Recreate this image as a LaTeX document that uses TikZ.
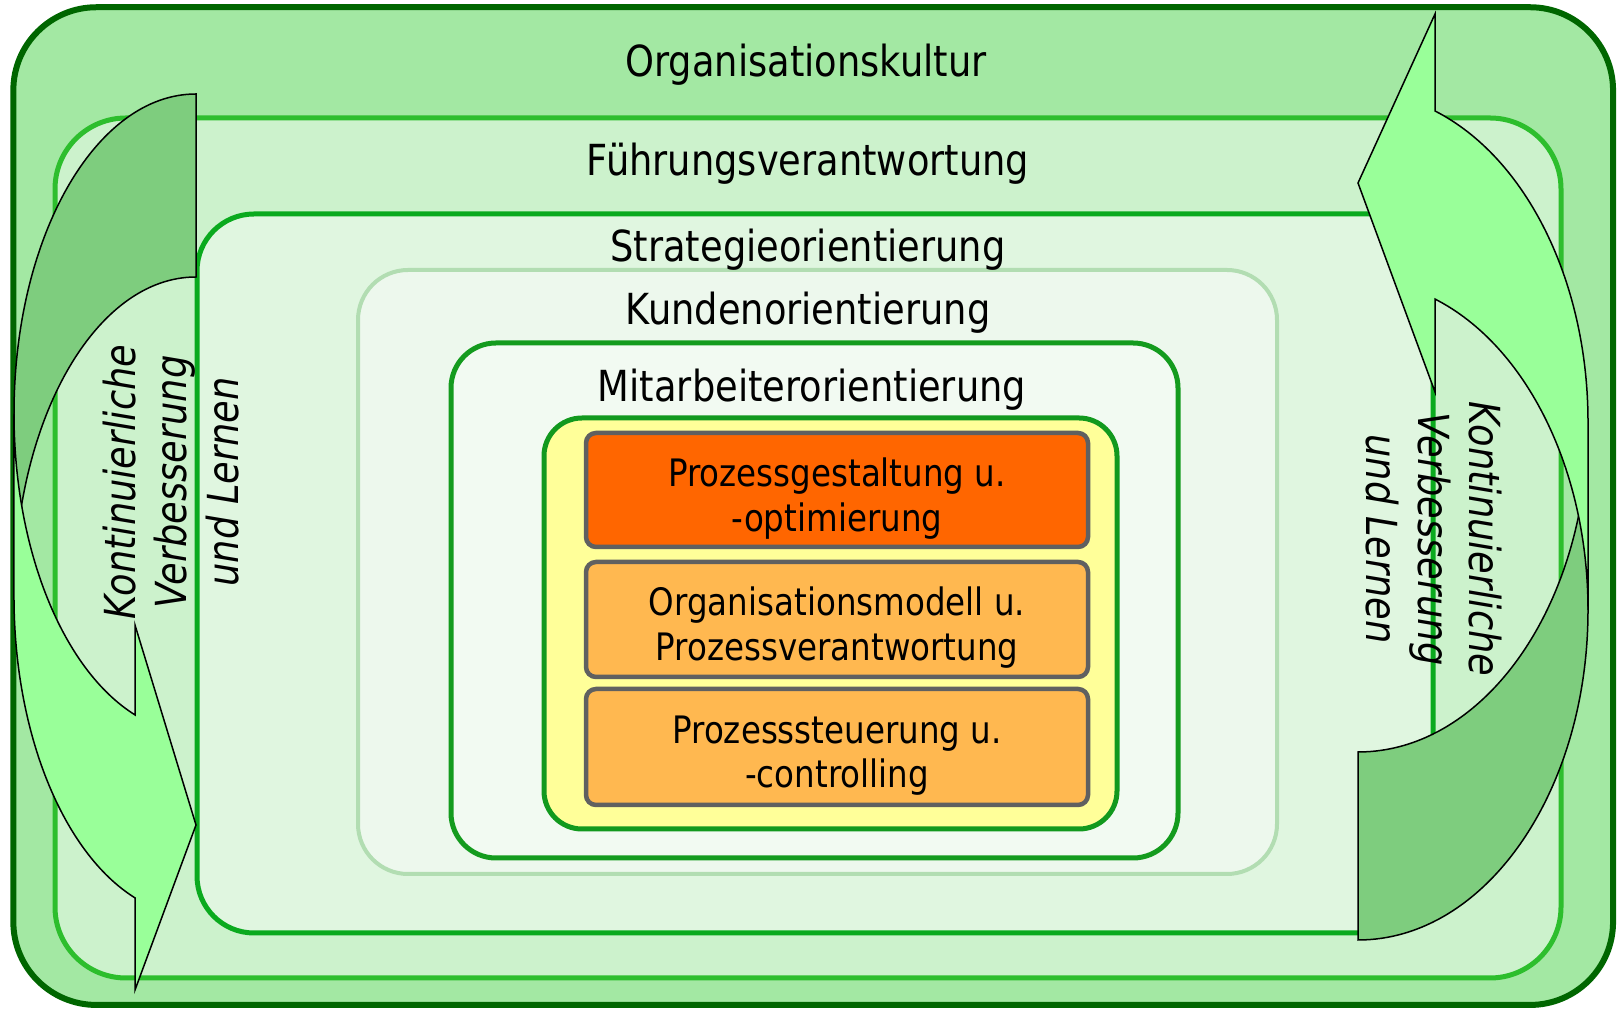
\documentclass[tikz,border=0pt]{standalone}
\usepackage{fontspec}
\setmainfont{DejaVu Sans}[FakeStretch=0.86]
\definecolor{cAf}{HTML}{A3E8A3}\definecolor{cAb}{HTML}{006600}
\definecolor{cBf}{HTML}{CCF2CC}\definecolor{cBb}{HTML}{2DBE2D}
\definecolor{cCf}{HTML}{E0F6E0}\definecolor{cCb}{HTML}{0AAA1E}
\definecolor{cDf}{HTML}{EDF8ED}\definecolor{cDb}{HTML}{B2DDB2}
\definecolor{cEf}{HTML}{F2FAF2}\definecolor{cEb}{HTML}{149B1E}
\definecolor{cFf}{HTML}{FFFF99}\definecolor{cFb}{HTML}{12991E}
\definecolor{pOrA}{HTML}{FF6600}\definecolor{pOrB}{HTML}{FFB850}
\definecolor{pGray}{HTML}{606060}
\definecolor{arDark}{HTML}{7ECD7E}\definecolor{arLight}{HTML}{99FF99}
\begin{document}
\begin{tikzpicture}[x=1pt,y=1pt,
  lvl/.style={rectangle, inner sep=0pt},
  ttl/.style={inner sep=0pt, anchor=base, font=\fontsize{42.8}{51.5}\selectfont},
  pbox/.style={rectangle, draw=pGray, line width=4.5pt, rounded corners=10pt,
    inner sep=0pt, minimum width=502pt},
  ptxt/.style={inner sep=0pt, align=center, font=\fontsize{37.8}{44.5}\selectfont},
  rot/.style={inner sep=0pt, align=center, font=\fontsize{42.8}{51.5}\selectfont\itshape},
  arrpart/.style={draw=black, line width=1.5pt, line join=miter}]
\useasboundingbox (0,0) rectangle (1618,1009);
% nested levels
\node[lvl, draw=cAb, fill=cAf, line width=6pt, rounded corners=83pt,
  minimum width=1599.7pt, minimum height=997.7pt] (kultur) at (813.2,502.9) {};
\node[lvl, draw=cBb, fill=cBf, line width=5pt, rounded corners=71pt,
  minimum width=1506pt, minimum height=860pt] (fuehrung) at (808,461) {};
\node[lvl, draw=cCb, fill=cCf, line width=5pt, rounded corners=57pt,
  minimum width=1236pt, minimum height=719pt] (strategie) at (815,435.5) {};
\node[lvl, draw=cDb, fill=cDf, line width=4pt, rounded corners=50pt,
  minimum width=919pt, minimum height=604pt] (kunde) at (817.5,437) {};
\node[lvl, draw=cEb, fill=cEf, line width=5pt, rounded corners=45pt,
  minimum width=727pt, minimum height=515pt] (mitarb) at (814.5,408.5) {};
\node[lvl, draw=cFb, fill=cFf, line width=5pt, rounded corners=38pt,
  minimum width=573pt, minimum height=411pt] (kern) at (830.5,385.5) {};
% process boxes
\node[pbox, fill=pOrA, minimum height=114pt] (p1) at (837,519) {};
\node[pbox, fill=pOrB, minimum height=115pt] (p2) at (837,389.5) {};
\node[pbox, fill=pOrB, minimum height=116pt] (p3) at (837,262) {};
\node[ptxt] (p1t) at ([yshift=-8.5pt]p1.center) {Prozessgestaltung u.\\-optimierung};
\node[ptxt] (p2t) at ([yshift=-8pt]p2.center) {Organisationsmodell u.\\Prozessverantwortung};
\node[ptxt] (p3t) at ([yshift=-8.5pt]p3.center) {Prozesssteuerung u.\\-controlling};
% titles
\node[ttl] (t1) at (806,932) {Organisationskultur};
\node[ttl] (t2) at (808,833) {Führungsverantwortung};
\node[ttl] (t3) at (808,747.5) {Strategieorientierung};
\node[ttl] (t4) at (808,684) {Kundenorientierung};
\node[ttl] (t5) at (812,607) {Mitarbeiterorientierung};
% left curved arrow
\path[arrpart, fill=arDark] (196,915) arc[start angle=90, end angle=180, x radius=182, y radius=319.7]
  -- (14,412.3) arc[start angle=180, end angle=90, x radius=182, y radius=319.7] -- cycle;
\path[arrpart, fill=arLight] (14,595.3) arc[start angle=180, end angle=250.42, x radius=182, y radius=319.7]
  -- (135,384) -- (196,184) -- (135,19) -- (135,111.1)
  arc[start angle=250.42, end angle=180, x radius=182, y radius=319.7] -- cycle;
% right curved arrow
\path[arrpart, fill=arDark] (1358,69) arc[start angle=270, end angle=360, x radius=230, y radius=330]
  -- (1588,587) arc[start angle=0, end angle=-90, x radius=230, y radius=330] -- cycle;
\path[arrpart, fill=arLight] (1588,399) arc[start angle=0, end angle=70.44, x radius=230, y radius=330]
  -- (1435,617) -- (1358,826) -- (1435,995) -- (1435,898)
  arc[start angle=70.44, end angle=0, x radius=230, y radius=330] -- cycle;
% rotated labels
\node[rot, rotate=90] (kvlL) at (171,527) {Kontinuierliche\\Verbesserung\\und Lernen};
\node[rot, rotate=-90] (kvlR) at (1434,470) {Kontinuierliche\\Verbesserung\\und Lernen};
\end{tikzpicture}
\end{document}
